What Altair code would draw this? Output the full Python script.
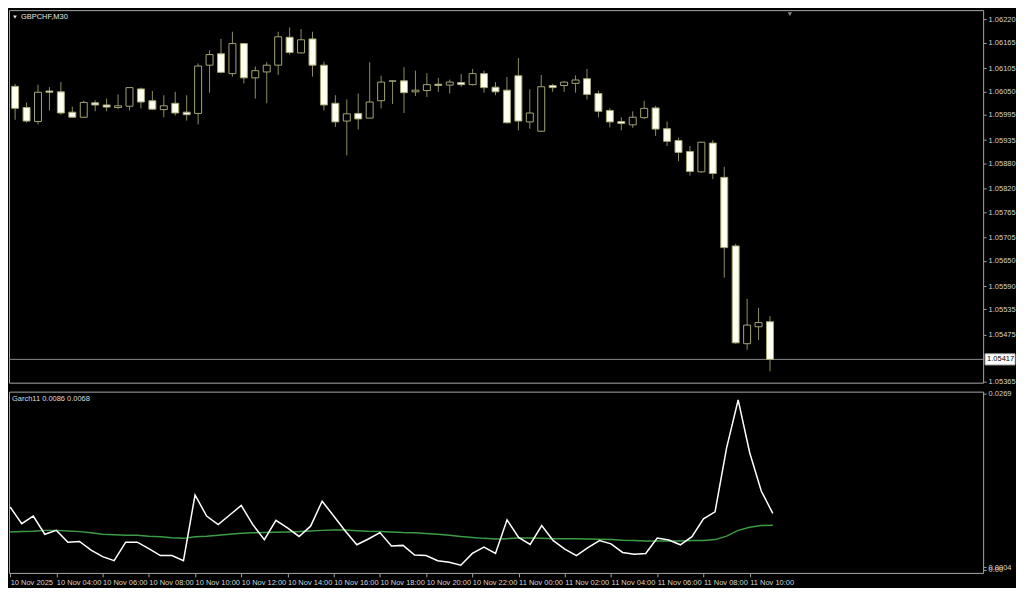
import altair as alt
import pandas as pd

# ---------------- data ----------------
symbol = "GBPCHF,M30"
opens = [1.06062, 1.06012, 1.05979, 1.06051, 1.06049, 1.06001, 1.05989, 1.06023, 1.06018, 1.06012,
         1.06015, 1.06056, 1.06028, 1.06007, 1.06022, 1.06001, 1.05998, 1.06112, 1.06139, 1.06092,
         1.06163, 1.06082, 1.06096, 1.06112, 1.06178, 1.06141, 1.06174, 1.06112, 1.06022, 1.05980,
         1.05998, 1.05987, 1.06028, 1.06074, 1.06075, 1.06049, 1.06052, 1.06067, 1.06065, 1.06071,
         1.06066, 1.06092, 1.06060, 1.06053, 1.06087, 1.05978, 1.05956, 1.06064, 1.06064, 1.06069,
         1.06080, 1.06045, 1.06005, 1.05979, 1.05971, 1.05988, 1.06011, 1.05962, 1.05934, 1.05908,
         1.05860, 1.05928, 1.05847, 1.05685, 1.05454, 1.05494, 1.05506]
highs = [1.06068, 1.06024, 1.06066, 1.06060, 1.06072, 1.06014, 1.06028, 1.06029, 1.06033, 1.06043,
         1.06060, 1.06059, 1.06051, 1.06041, 1.06049, 1.06041, 1.06116, 1.06147, 1.06174, 1.06191,
         1.06164, 1.06109, 1.06119, 1.06191, 1.06201, 1.06197, 1.06191, 1.06120, 1.06041, 1.06031,
         1.06045, 1.06119, 1.06087, 1.06076, 1.06107, 1.06099, 1.06093, 1.06082, 1.06078, 1.06091,
         1.06103, 1.06099, 1.06072, 1.06084, 1.06129, 1.06055, 1.06089, 1.06068, 1.06074, 1.06088,
         1.06103, 1.06052, 1.06010, 1.05989, 1.06003, 1.06028, 1.06016, 1.05979, 1.05941, 1.05921,
         1.05931, 1.05935, 1.05872, 1.05690, 1.05560, 1.05539, 1.05519]
lows = [1.05983, 1.05976, 1.05972, 1.06005, 1.05995, 1.05988, 1.05988, 1.06003, 1.06003, 1.06008,
        1.06005, 1.06010, 1.06006, 1.05989, 1.05993, 1.05981, 1.05972, 1.06047, 1.06093, 1.06085,
        1.06069, 1.06033, 1.06022, 1.06089, 1.06137, 1.06140, 1.06085, 1.06005, 1.05966, 1.05899,
        1.05960, 1.05986, 1.06010, 1.06020, 1.05999, 1.06039, 1.06037, 1.06049, 1.06045, 1.06061,
        1.06064, 1.06047, 1.06041, 1.05974, 1.05958, 1.05962, 1.05955, 1.06049, 1.06049, 1.06047,
        1.06031, 1.05989, 1.05965, 1.05958, 1.05964, 1.05985, 1.05945, 1.05921, 1.05885, 1.05851,
        1.05858, 1.05843, 1.05610, 1.05454, 1.05440, 1.05463, 1.05389]
closes = [1.06010, 1.05980, 1.06048, 1.06048, 1.05999, 1.05989, 1.06024, 1.06018, 1.06013, 1.06016,
          1.06059, 1.06025, 1.06008, 1.06016, 1.05999, 1.05995, 1.06110, 1.06137, 1.06095, 1.06163,
          1.06082, 1.06099, 1.06112, 1.06179, 1.06142, 1.06172, 1.06112, 1.06018, 1.05978, 1.05997,
          1.05985, 1.06025, 1.06072, 1.06075, 1.06047, 1.06053, 1.06066, 1.06064, 1.06072, 1.06066,
          1.06092, 1.06059, 1.06049, 1.05976, 1.05980, 1.05999, 1.06061, 1.06059, 1.06072, 1.06077,
          1.06043, 1.06003, 1.05978, 1.05974, 1.05989, 1.06010, 1.05961, 1.05932, 1.05906, 1.05861,
          1.05930, 1.05856, 1.05681, 1.05456, 1.05498, 1.05504, 1.05417]

garch = [0.00959, 0.00704, 0.00821, 0.00543, 0.00602, 0.00422, 0.00432, 0.00300, 0.00202, 0.00139,
         0.00422, 0.00422, 0.00324, 0.00217, 0.00217, 0.00139, 0.01143, 0.00821, 0.00689, 0.00836,
         0.00982, 0.00689, 0.00461, 0.00754, 0.00641, 0.00509, 0.00666, 0.01047, 0.00821, 0.00593,
         0.00382, 0.00470, 0.00568, 0.00363, 0.00373, 0.00227, 0.00217, 0.00139, 0.00114, 0.00070,
         0.00250, 0.00348, 0.00250, 0.00763, 0.00495, 0.00388, 0.00675, 0.00446, 0.00315, 0.00217,
         0.00338, 0.00446, 0.00397, 0.00265, 0.00236, 0.00250, 0.00484, 0.00455, 0.00382, 0.00505,
         0.00777, 0.00885, 0.01860, 0.02592, 0.01787, 0.01202, 0.00860]
garch_avg = [0.00578, 0.00583, 0.00587, 0.00602, 0.00602, 0.00593, 0.00583, 0.00564, 0.00543, 0.00534,
             0.00528, 0.00528, 0.00514, 0.00505, 0.00490, 0.00480, 0.00505, 0.00514, 0.00528, 0.00543,
             0.00558, 0.00564, 0.00568, 0.00572, 0.00578, 0.00583, 0.00593, 0.00602, 0.00607, 0.00607,
             0.00597, 0.00587, 0.00583, 0.00578, 0.00568, 0.00564, 0.00553, 0.00543, 0.00528, 0.00509,
             0.00495, 0.00480, 0.00470, 0.00476, 0.00484, 0.00484, 0.00480, 0.00476, 0.00476, 0.00476,
             0.00470, 0.00465, 0.00461, 0.00451, 0.00446, 0.00441, 0.00441, 0.00441, 0.00441, 0.00446,
             0.00446, 0.00461, 0.00514, 0.00602, 0.00651, 0.00675, 0.00680]

price_ticks = [1.06220, 1.06165, 1.06105, 1.06050, 1.05995, 1.05935, 1.05880, 1.05820,
               1.05765, 1.05705, 1.05650, 1.05590, 1.05535, 1.05475, 1.05365]
garch_ticks = [0.0269, 0.0004, 0.0]
time_labels = ["10 Nov 2025", "10 Nov 04:00", "10 Nov 06:00", "10 Nov 08:00", "10 Nov 10:00",
               "10 Nov 12:00", "10 Nov 14:00", "10 Nov 16:00", "10 Nov 18:00", "10 Nov 20:00",
               "10 Nov 22:00", "11 Nov 00:00", "11 Nov 02:00", "11 Nov 04:00", "11 Nov 06:00",
               "11 Nov 08:00", "11 Nov 10:00"]
bars_per_label = 4
current_price = closes[-1]

# ---------------- layout / style ----------------
W = 978
HM = 374
HI = 182
FONT = "Liberation Sans"
LBL = "#d4d4d4"
WICK = "#8e8e5e"
EDGE = "#a4a474"
BEAR_FILL = "#fffff0"

n = len(opens)
df = pd.DataFrame({"i": list(range(n)), "open": opens, "high": highs,
                   "low": lows, "close": closes})
df["dir"] = ["bull" if c >= o else "bear" for o, c in zip(opens, closes)]

xscale = alt.Scale(domain=[-0.1, 84.2], nice=False, zero=False)
yscale = alt.Scale(domain=[1.05362, 1.06242], nice=False, zero=False)


def price_axis():
    return alt.Axis(orient="right", values=price_ticks, format=".5f", title=None,
                    labelFont=FONT, labelFontSize=7.5, labelColor=LBL, tickColor="#a0a0a0",
                    tickSize=3, labelPadding=2, domain=False, grid=False,
                    labelOverlap=False, labelBound=False)


base = alt.Chart(df)
wicks = base.mark_rule(color=WICK, strokeWidth=1, clip=True).encode(
    x=alt.X("i:Q", scale=xscale, axis=None),
    y=alt.Y("low:Q", scale=yscale, axis=price_axis()),
    y2="high:Q",
)
bodies = base.mark_bar(size=7, stroke=EDGE, strokeWidth=1, clip=True).encode(
    x=alt.X("i:Q", scale=xscale, axis=None),
    y=alt.Y("open:Q", scale=yscale, axis=price_axis()),
    y2="close:Q",
    fill=alt.Fill("dir:N", scale=alt.Scale(domain=["bull", "bear"], range=["#000000", BEAR_FILL]),
                  legend=None),
)

pdf = pd.DataFrame({"p": [current_price], "lab": [f"{current_price:.5f}"]})
price_line = alt.Chart(pdf).mark_rule(color="#8a8a8a", strokeWidth=1).encode(
    y=alt.Y("p:Q", scale=yscale, axis=price_axis()))
price_box = alt.Chart(pdf).transform_calculate(
    hi="datum.p + 0.00013", lo="datum.p - 0.00013"
).mark_rect(color="#ffffff", stroke="#c0c0c0").encode(
    x=alt.value(W + 2), x2=alt.value(W + 32),
    y=alt.Y("hi:Q", scale=yscale, axis=price_axis()), y2="lo:Q")
price_text = alt.Chart(pdf).mark_text(align="left", baseline="middle", font=FONT,
                                      fontSize=7.5, color="#000000").encode(
    x=alt.value(W + 4), y=alt.Y("p:Q", scale=yscale, axis=price_axis()), text="lab:N")

one = pd.DataFrame({"t": [symbol]})
sym_tri = alt.Chart(one).mark_point(shape="triangle-down", filled=True, size=14,
                                     color="#e6e6e6", opacity=1).encode(
    x=alt.value(6), y=alt.value(7))
sym_text = alt.Chart(one).mark_text(align="left", baseline="middle", font=FONT,
                                    fontSize=7.5, color="#e6e6e6").encode(
    x=alt.value(12), y=alt.value(7), text="t:N")
shift_tri = alt.Chart(one).mark_point(shape="triangle-down", filled=True, size=18,
                                       color="#8a8a8a", opacity=1).encode(
    x=alt.value(784), y=alt.value(4))

main = alt.layer(price_line, wicks, bodies, price_box, price_text, sym_tri,
                 sym_text, shift_tri).properties(width=W, height=HM)

# ---------------- indicator panel ----------------
label_arr = "[" + ",".join(f"'{t}'" for t in time_labels) + "]"


def time_axis():
    return alt.Axis(orient="bottom",
                    values=[k * bars_per_label for k in range(len(time_labels))],
                    labelExpr=f"{label_arr}[round(datum.value/{bars_per_label})]",
                    title=None, labelFont=FONT, labelFontSize=7.5, labelColor=LBL,
                    labelAlign="left", labelPadding=2, labelFlush=False, labelOverlap=False,
                    tickSize=4, tickColor="#a0a0a0", domain=False, grid=False)


def garch_axis():
    return alt.Axis(orient="right", values=garch_ticks,
                    labelExpr="datum.value == 0 ? '0.00' : format(datum.value, '.4f')",
                    title=None, labelFont=FONT, labelFontSize=7.5, labelColor=LBL,
                    tickSize=3, tickColor="#a0a0a0", labelPadding=2, domain=False,
                    grid=False, labelOverlap=False, labelBound=False)


gscale = alt.Scale(domain=[-0.00047, 0.02719], nice=False, zero=False)

gdf = pd.DataFrame({"i": list(range(n)) * 2,
                    "v": garch + garch_avg,
                    "s": ["garch"] * n + ["avg"] * n})
avg_line = alt.Chart(gdf).transform_filter("datum.s == 'avg'").mark_line(
    color="#3c9c46", strokeWidth=1.5, clip=True).encode(
    x=alt.X("i:Q", scale=xscale, axis=time_axis()),
    y=alt.Y("v:Q", scale=gscale, axis=garch_axis()))
garch_line = alt.Chart(gdf).transform_filter("datum.s == 'garch'").mark_line(
    color="#ffffff", strokeWidth=1.5, clip=True).encode(
    x=alt.X("i:Q", scale=xscale, axis=time_axis()),
    y=alt.Y("v:Q", scale=gscale, axis=garch_axis()))
ind_title = alt.Chart(pd.DataFrame({
    "t": [f"Garch11 {garch[-1]:.4f} {garch_avg[-1]:.4f}"]})).mark_text(
    align="left", baseline="middle", font=FONT, fontSize=7.5, color="#dcdcdc").encode(
    x=alt.value(3), y=alt.value(7), text="t:N")

ind = alt.layer(avg_line, garch_line, ind_title).properties(width=W, height=HI)

chart = alt.vconcat(main, ind, spacing=3, padding=0).configure(
    background="#000000"
).configure_axis(
    labelOverlap=False
).configure_view(stroke="#a8a8a8", strokeWidth=1, fill="#000000")

chart.save("out.html", embed_options={"renderer": "svg", "actions": False})
